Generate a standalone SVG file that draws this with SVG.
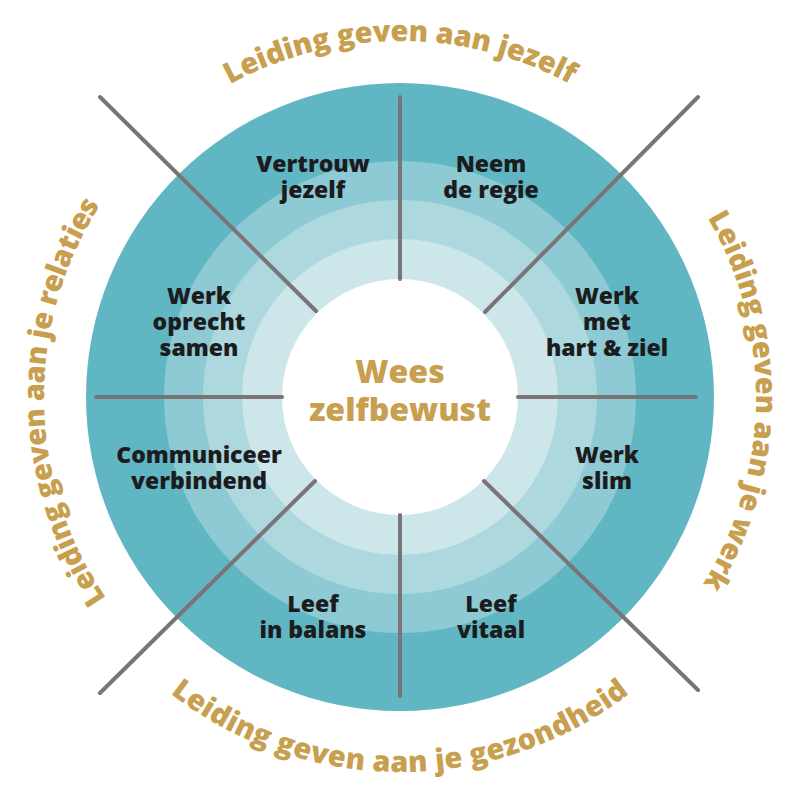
<svg xmlns="http://www.w3.org/2000/svg" width="800" height="800" viewBox="0 0 800 800">
<style>
.lbl{font-family:"Open Sans","Liberation Sans",sans-serif;font-weight:800;font-size:23px;fill:#1c1c1e;text-anchor:middle}
.ctr{font-family:"Open Sans","Liberation Sans",sans-serif;font-weight:800;font-size:32px;fill:#c89f4f;text-anchor:middle}
.arc{font-family:"Open Sans","Liberation Sans",sans-serif;font-weight:800;font-size:29px;fill:#c89f4f}
.conn{stroke:#7a7476;stroke-width:4;stroke-linecap:round;fill:none}
</style>
<defs>
<path id="pTop" d="M 44,397 A 356,356 0 0 1 756,397"/>
<path id="pRight" d="M 400,41 A 356,356 0 0 1 400,753"/>
<path id="pLeft" d="M 400,753 A 356,356 0 0 1 400,41"/>
<path id="pBottom" d="M 25,397 A 375,375 0 0 0 775,397"/>
</defs>
<rect width="800" height="800" fill="#ffffff"/>
<g id="rings">
<circle cx="400" cy="397" r="314" fill="#60b7c3"/>
<circle cx="400" cy="397" r="236" fill="#8dcad3"/>
<circle cx="400" cy="397" r="197" fill="#acd8de"/>
<circle cx="400" cy="397" r="158" fill="#cce6ea"/>
<circle cx="400" cy="397" r="118" fill="#ffffff"/>
</g>
<g id="connectors">
<line class="conn" x1="400" y1="97" x2="400" y2="279"/>
<line class="conn" x1="400" y1="515" x2="400" y2="696"/>
<line class="conn" x1="96" y1="397" x2="282" y2="397"/>
<line class="conn" x1="518" y1="397" x2="696" y2="397"/>
<line class="conn" x1="100" y1="97" x2="316" y2="311"/>
<line class="conn" x1="698" y1="97" x2="485" y2="312"/>
<line class="conn" x1="100" y1="693" x2="315" y2="481"/>
<line class="conn" x1="698" y1="690" x2="484" y2="481"/>
</g>
<g id="center">
<text class="ctr" x="400" y="383">Wees</text>
<text class="ctr" x="400" y="421">zelfbewust</text>
</g>
<g id="vertrouw-jezelf">
<text class="lbl" x="313" y="172">Vertrouw</text>
<text class="lbl" x="313" y="197.5">jezelf</text>
</g>
<g id="neem-de-regie">
<text class="lbl" x="491" y="172">Neem</text>
<text class="lbl" x="491" y="197.5">de regie</text>
</g>
<g id="werk-oprecht-samen">
<text class="lbl" x="199" y="304">Werk</text>
<text class="lbl" x="199" y="330">oprecht</text>
<text class="lbl" x="199" y="356">samen</text>
</g>
<g id="werk-met-hart-ziel">
<text class="lbl" x="607" y="304">Werk</text>
<text class="lbl" x="607" y="330">met</text>
<text class="lbl" x="607" y="356">hart &amp; ziel</text>
</g>
<g id="communiceer-verbindend">
<text class="lbl" x="199" y="463">Communiceer</text>
<text class="lbl" x="199" y="489">verbindend</text>
</g>
<g id="werk-slim">
<text class="lbl" x="607" y="463">Werk</text>
<text class="lbl" x="607" y="489">slim</text>
</g>
<g id="leef-in-balans">
<text class="lbl" x="313" y="612">Leef</text>
<text class="lbl" x="313" y="637.5">in balans</text>
</g>
<g id="leef-vitaal">
<text class="lbl" x="491" y="612">Leef</text>
<text class="lbl" x="491" y="637.5">vitaal</text>
</g>
<g id="leiding-jezelf">
<text class="arc" text-anchor="middle" letter-spacing="-0.2"><textPath href="#pTop" startOffset="50%">Leiding geven aan jezelf</textPath></text>
</g>
<g id="leiding-werk">
<text class="arc" text-anchor="middle" letter-spacing="-0.2"><textPath href="#pRight" startOffset="50.4%">Leiding geven aan je werk</textPath></text>
</g>
<g id="leiding-relaties">
<text class="arc" text-anchor="middle" letter-spacing="-0.4"><textPath href="#pLeft" startOffset="49.5%">Leiding geven aan je relaties</textPath></text>
</g>
<g id="leiding-gezondheid">
<text class="arc" text-anchor="middle" letter-spacing="0.3"><textPath href="#pBottom" startOffset="50%">Leiding geven aan je gezondheid</textPath></text>
</g>
</svg>
